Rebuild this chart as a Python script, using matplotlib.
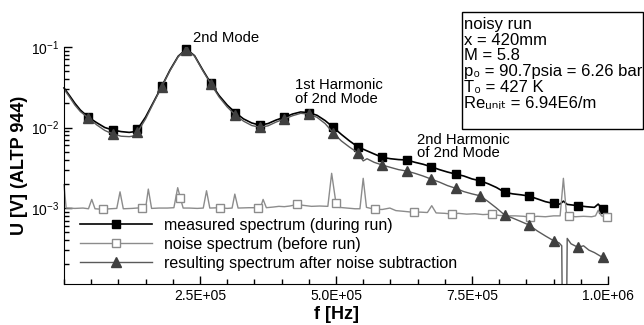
import numpy as np
import matplotlib.pyplot as plt
from matplotlib.ticker import FixedLocator, MultipleLocator, LogLocator, NullFormatter

plt.rcParams['font.family'] = ['Liberation Sans', 'DejaVu Sans']
plt.rcParams['mathtext.fontset'] = 'custom'
plt.rcParams['mathtext.rm'] = 'Liberation Sans'
plt.rcParams['mathtext.it'] = 'Liberation Sans'

# measured spectrum (during run), f in kHz, U in V
meas_f = [0, 10, 20, 30, 45, 60, 75, 90, 105, 120, 130, 135, 150, 165, 180, 195, 210, 225,
          240, 255, 270, 285, 300, 315, 330, 345, 360, 375, 390, 405, 420, 435, 450, 465,
          480, 495, 510, 525, 540, 555, 570, 585, 600, 615, 630, 645, 660, 675, 690, 705,
          720, 735, 750, 765, 780, 795, 810, 825, 840, 855, 870, 885, 900, 912, 918, 925,
          945, 960, 975, 982, 990]
meas_u = [0.031, 0.025, 0.020, 0.0165, 0.0134, 0.0115, 0.0100, 0.0093, 0.0089, 0.0087,
          0.0089, 0.0095, 0.0135, 0.021, 0.0328, 0.052, 0.077, 0.094, 0.078, 0.052, 0.0354,
          0.025, 0.019, 0.0153, 0.0128, 0.0114, 0.0107, 0.0112, 0.0124, 0.0134, 0.0147,
          0.0156, 0.0153, 0.0142, 0.0122, 0.01005, 0.0082, 0.0068, 0.00577, 0.0052, 0.0047,
          0.00426, 0.0041, 0.0040, 0.00395, 0.0037, 0.0035, 0.00326, 0.0030, 0.0028,
          0.00264, 0.0025, 0.0023, 0.00218, 0.0020, 0.0018, 0.00157, 0.00150, 0.00146,
          0.00141, 0.00130, 0.00120, 0.00114, 0.00112, 0.00122, 0.00111, 0.00107, 0.00104,
          0.00102, 0.00112, 0.00096]
meas_mk = [45, 90, 135, 180, 225, 270, 315, 360, 405, 450, 495, 540, 585, 630, 675, 720,
           765, 810, 855, 900, 945, 990]

# noise spectrum (before run)
noise_f = [0, 4, 20, 35, 45, 51, 57, 71, 85, 97, 103, 109, 125, 143, 150, 155, 161, 175,
           190, 202, 209, 214, 219, 230, 245, 256, 262, 268, 286, 300, 309, 314, 320, 340,
           357, 361, 366, 372, 385, 395, 405, 415, 429, 440, 455, 470, 485, 492, 500, 506,
           520, 535, 544, 550, 556, 571, 585, 599, 610, 625, 643, 655, 668, 676, 684, 700,
           714, 725, 740, 755, 770, 786, 800, 815, 830, 845, 857, 870, 885, 900, 912, 918,
           924, 929, 940, 955, 970, 977, 982, 988, 998]
noise_u = [1.95e-3, 1.00e-3, 0.99e-3, 1.00e-3, 0.98e-3, 1.28e-3, 0.98e-3, 0.965e-3,
           0.98e-3, 0.99e-3, 1.59e-3, 0.98e-3, 0.99e-3, 1.01e-3, 0.99e-3, 1.72e-3, 0.99e-3,
           1.00e-3, 1.00e-3, 1.01e-3, 1.79e-3, 1.33e-3, 1.00e-3, 1.00e-3, 0.99e-3, 1.00e-3,
           1.64e-3, 1.00e-3, 1.01e-3, 0.99e-3, 1.00e-3, 1.49e-3, 1.00e-3, 1.01e-3, 1.01e-3,
           1.00e-3, 1.28e-3, 1.01e-3, 1.03e-3, 1.05e-3, 1.04e-3, 1.06e-3, 1.11e-3, 1.08e-3,
           1.05e-3, 1.06e-3, 1.05e-3, 2.70e-3, 1.14e-3, 1.02e-3, 1.00e-3, 0.98e-3, 0.98e-3,
           2.34e-3, 1.02e-3, 0.965e-3, 0.96e-3, 1.00e-3, 0.93e-3, 0.91e-3, 0.885e-3,
           0.89e-3, 0.88e-3, 1.07e-3, 0.87e-3, 0.86e-3, 0.84e-3, 0.86e-3, 0.84e-3, 0.85e-3,
           0.83e-3, 0.84e-3, 0.81e-3, 0.80e-3, 0.80e-3, 0.79e-3, 0.77e-3, 0.79e-3, 0.78e-3,
           0.80e-3, 0.80e-3, 2.34e-3, 0.80e-3, 0.80e-3, 0.78e-3, 0.79e-3, 0.78e-3, 0.80e-3,
           0.94e-3, 0.80e-3, 0.77e-3]
noise_mk = [71, 143, 214, 286, 357, 429, 500, 571, 643, 714, 786, 857, 929, 998]

# resulting spectrum after noise subtraction
res_f = [0, 10, 20, 30, 45, 60, 75, 90, 105, 120, 130, 135, 150, 165, 180, 195, 210, 225,
         240, 255, 270, 285, 300, 315, 330, 345, 360, 375, 390, 405, 420, 435, 450, 465,
         480, 495, 510, 525, 540, 550, 557, 570, 585, 600, 615, 630, 645, 660, 675, 690,
         705, 720, 735, 750, 765, 780, 795, 810, 825, 840, 855, 870, 885, 900, 910, 915,
         918, 922, 925, 932, 945, 955, 965, 975, 990, 1000]
res_u = [0.030, 0.024, 0.019, 0.0158, 0.0131, 0.0108, 0.0092, 0.0083, 0.0078, 0.0077,
         0.0079, 0.0087, 0.0128, 0.0205, 0.0323, 0.051, 0.076, 0.093, 0.077, 0.051, 0.0347,
         0.024, 0.018, 0.0143, 0.0120, 0.0106, 0.01005, 0.0105, 0.0117, 0.0128, 0.0140,
         0.0150, 0.0147, 0.0134, 0.0112, 0.00855, 0.0068, 0.0057, 0.00486, 0.00385, 0.0041,
         0.0037, 0.00342, 0.0032, 0.0030, 0.00288, 0.0027, 0.0025, 0.00229, 0.0021, 0.0019,
         0.00176, 0.0016, 0.0015, 0.00142, 0.0012, 0.0010, 0.00082, 0.00075, 0.00068,
         0.000615, 0.00052, 0.00045, 0.000393, 0.00037, 0.00034, 1e-6, 1e-6, 0.00042,
         0.00036, 0.000325, 0.00034, 0.00030, 0.00028, 0.000244, 0.000225]
res_mk = meas_mk

def idx(f, mk):
    return [f.index(m) for m in mk]

fig = plt.figure(figsize=(6.44, 3.25), dpi=100)
ax = fig.add_axes([64/644, 41/325, 544/644, 237/325])

ax.plot(np.array(meas_f)*1e3, meas_u, color='black', lw=1.2, marker='s', ms=6,
        markevery=idx(meas_f, meas_mk), clip_on=False, label='measured spectrum (during run)')
ax.plot(np.array(noise_f)*1e3, noise_u, color='#8c8c8c', lw=1.0, marker='s', ms=6,
        mfc='white', mec='#8c8c8c', mew=1.0, markevery=idx(noise_f, noise_mk), clip_on=False,
        label='noise spectrum (before run)')
ax.plot(np.array(res_f)*1e3, res_u, color='#5a5a5a', lw=1.0, marker='^', ms=6.5,
        mfc='#404040', mec='#404040', markevery=idx(res_f, res_mk),
        label='resulting spectrum after noise subtraction')

ax.set_yscale('log')
ax.set_xlim(0, 1e6)
ax.set_ylim(1.14e-4, 0.1)
ax.xaxis.set_major_locator(FixedLocator([2.5e5, 5e5, 7.5e5, 1e6]))
ax.xaxis.set_minor_locator(MultipleLocator(5e4))
ax.set_xticklabels(['2.5E+05', '5.0E+05', '7.5E+05', '1.0E+06'])
ax.yaxis.set_major_locator(FixedLocator([1e-3, 1e-2, 1e-1]))
ax.set_yticklabels([r'$\mathregular{10^{-3}}$', r'$\mathregular{10^{-2}}$', r'$\mathregular{10^{-1}}$'])
ax.yaxis.set_minor_locator(LogLocator(base=10, subs=np.arange(2, 10), numticks=20))
ax.yaxis.set_minor_formatter(NullFormatter())
ax.tick_params(which='both', direction='in', labelsize=10, width=1)
ax.tick_params(which='major', length=6)
ax.tick_params(which='minor', length=3.5)
ax.spines['top'].set_visible(False)
ax.spines['right'].set_visible(False)

ax.set_xlabel('f [Hz]', fontsize=13, fontweight='bold', labelpad=2)
ax.set_ylabel('U [V] (ALTP 944)', fontsize=13, fontweight='bold', labelpad=2)

ax.text(237e3, 0.129, '2nd Mode', fontsize=10.7, va='center', ha='left')
ax.text(425e3, 0.0276, '1st Harmonic\nof 2nd Mode', fontsize=10.7, va='center', ha='left',
        linespacing=0.95)
ax.text(649e3, 0.0058, '2nd Harmonic\nof 2nd Mode', fontsize=10.7, va='center', ha='left',
        linespacing=0.95)

ax.legend(loc='upper left', bbox_to_anchor=(80/644, 1 - 218/325), bbox_transform=fig.transFigure,
          frameon=False, fontsize=11.5, handlelength=4.5, handletextpad=0.75,
          labelspacing=0.25, borderpad=0, borderaxespad=0)

fig.patches.append(plt.Rectangle((462/644, 1 - 129/325), 181/644, 117/325, fill=False,
                                 edgecolor='black', lw=1, transform=fig.transFigure))
box_lines = ['noisy run', 'x = 420mm', 'M = 5.8', 'p\u2080 = 90.7psia = 6.26 bar',
             'T\u2080 = 427 K', 'Re\u1d64\u2099\u1d62\u209c = 6.94E6/m']
fig.text(464/644, 1 - 17/325, '\n'.join(box_lines), fontsize=12, va='top', ha='left',
         linespacing=1.06)

fig.savefig('out.png', dpi=100)
